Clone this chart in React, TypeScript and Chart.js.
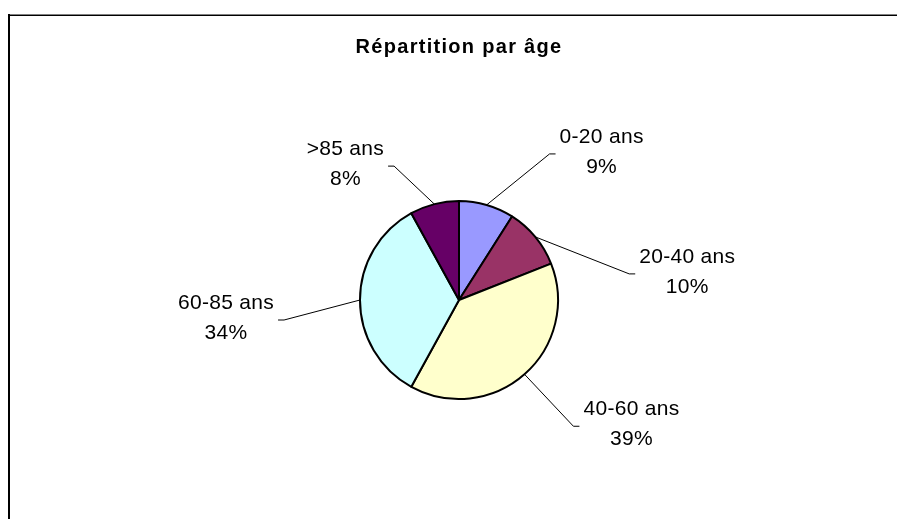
import React, { useEffect, useRef } from "react";
import { Chart, registerables } from "chart.js";

Chart.register(...registerables);

const TITLE = "Répartition par âge";
const categories = ["0-20 ans", "20-40 ans", "40-60 ans", "60-85 ans", ">85 ans"];
const values = [9, 10, 39, 34, 8];
const colors = ["#9999FF", "#993366", "#FFFFCC", "#CCFFFF", "#660066"];
// label block centre, relative to the slice's outer mid point (style only)
const labelOffsets = [
  [115, -53],
  [152, 35],
  [107, 50],
  [-134, 18],
  [-89, -40],
];

const FONT = '"Liberation Sans", Arial, sans-serif';

const framePlugin = {
  id: "frame",
  beforeDraw(chart: any) {
    const ctx = chart.ctx;
    ctx.save();
    ctx.fillStyle = "#808080";
    ctx.fillRect(0, 6, chart.width, 1);
    ctx.fillStyle = "#000";
    ctx.fillRect(0, 7, chart.width, 1);
    ctx.fillRect(0, 6, 2, chart.height);
    ctx.restore();
    (ctx as any).letterSpacing = "1.3px";
  },
  beforeDatasetsDraw(chart: any) {
    (chart.ctx as any).letterSpacing = "0px";
  },
};

const labelPlugin = {
  id: "pieLabels",
  afterDatasetsDraw(chart: any) {
    const ctx = chart.ctx;
    const meta = chart.getDatasetMeta(0);
    const total = values.reduce((a, b) => a + b, 0);
    ctx.save();
    (ctx as any).letterSpacing = "0.3px";
    ctx.font = `21px ${FONT}`;
    ctx.fillStyle = "#000";
    ctx.textAlign = "center";
    ctx.textBaseline = "middle";
    meta.data.forEach((arc: any, i: number) => {
      const { x, y, startAngle, endAngle, outerRadius } = arc.getProps(
        ["x", "y", "startAngle", "endAngle", "outerRadius"],
        true
      );
      const mid = (startAngle + endAngle) / 2;
      const ex = x + Math.cos(mid) * outerRadius;
      const ey = y + Math.sin(mid) * outerRadius;
      const [dx, dy] = labelOffsets[i];
      const cx = ex + dx;
      const cy = ey + dy;
      const pct = Math.round((values[i] / total) * 100) + "%";
      const lines = [categories[i], pct];
      const w = Math.max(...lines.map((t) => ctx.measureText(t).width));
      const right = dx > 0;
      const edgeX = right ? cx - w / 2 : cx + w / 2;
      const sgn = right ? -1 : 1;
      const ly = cy + 2;
      ctx.beginPath();
      ctx.moveTo(ex, ey);
      ctx.lineTo(edgeX + sgn * 10, ly);
      ctx.lineTo(edgeX + sgn * 4, ly);
      ctx.lineWidth = 1;
      ctx.strokeStyle = "#000";
      ctx.stroke();
      lines.forEach((t, k) => ctx.fillText(t, cx, cy + (k - 0.5) * 30));
    });
    ctx.restore();
  },
};

export default function App() {
  const ref = useRef<HTMLCanvasElement | null>(null);
  useEffect(() => {
    document.body.style.overflow = "hidden";
    if (!ref.current) return;
    const chart = new Chart(ref.current, {
      type: "pie",
      data: {
        labels: categories,
        datasets: [
          {
            data: values,
            backgroundColor: colors,
            borderColor: "#000",
            borderWidth: 2,
          },
        ],
      },
      options: {
        animation: false,
        responsive: false,
        events: [],
        radius: 99,
        layout: { padding: { left: 13, right: 0, top: 0, bottom: 0 } },
        plugins: {
          legend: { display: false },
          tooltip: { enabled: false },
          title: {
            display: true,
            text: TITLE,
            color: "#000",
            font: { family: FONT, size: 20, weight: "bold", lineHeight: 1.2 },
            padding: { top: 27, bottom: 22 },
          },
        },
      } as any,
      plugins: [framePlugin, labelPlugin],
    });
    return () => chart.destroy();
  }, []);
  return (
    <div style={{ position: "fixed", left: 8, top: 8, width: 889, height: 511 }}>
      <canvas ref={ref} width={889} height={511} style={{ display: "block", width: 889, height: 511 }} />
    </div>
  );
}
